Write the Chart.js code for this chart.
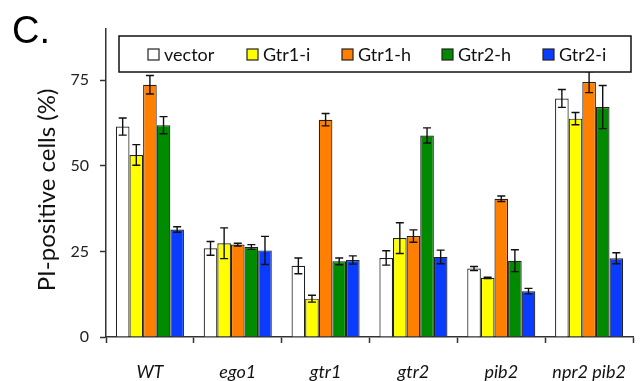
<!DOCTYPE html>
<html>
<head>
<meta charset="utf-8">
<script src="https://cdn.jsdelivr.net/npm/chart.js@4.4.0/dist/chart.umd.min.js"></script>
<style>
  html, body { margin: 0; padding: 0; background: #fff; }
  #wrap { width: 644px; height: 381px; }
</style>
</head>
<body>
<div id="wrap"><canvas id="piChart" width="644" height="381"></canvas></div>
<script>
// categories (strains)
const strains = ['WT', 'ego1', 'gtr1', 'gtr2', 'pib2', 'npr2 pib2'];
const seriesNames = ['vector', 'Gtr1-i', 'Gtr1-h', 'Gtr2-h', 'Gtr2-i'];
const seriesColors = ['#ffffff', '#ffff00', '#ff8000', '#008a00', '#0a3cff'];

// mean % PI-positive cells
const vectorVals = [61.5, 25.9, 20.8, 23.1, 20.0, 69.7];
const gtr1iVals  = [53.2, 27.4, 11.2, 28.9, 17.3, 63.8];
const gtr1hVals  = [73.7, 27.0, 63.5, 29.5, 40.4, 74.5];
const gtr2hVals  = [61.9, 26.3, 22.1, 58.9, 22.3, 67.2];
const gtr2iVals  = [31.4, 25.3, 22.5, 23.4, 13.4, 23.0];

// error bar half-lengths
const vectorErr = [2.5, 2.0, 2.3, 2.1, 0.6, 2.6];
const gtr1iErr  = [3.0, 4.5, 1.0, 4.5, 0.2, 1.8];
const gtr1hErr  = [2.7, 0.4, 1.8, 1.8, 0.8, 3.1];
const gtr2hErr  = [2.5, 0.7, 1.0, 2.2, 3.2, 6.3];
const gtr2iErr  = [0.8, 4.1, 1.2, 2.0, 0.8, 1.6];

const yTicks = [0, 25, 50, 75];

const allVals = [vectorVals, gtr1iVals, gtr1hVals, gtr2hVals, gtr2iVals];
const allErr = [vectorErr, gtr1iErr, gtr1hErr, gtr2hErr, gtr2iErr];

const datasets = seriesNames.map((name, i) => ({
    label: name,
    data: allVals[i],
    errors: allErr[i],
    backgroundColor: seriesColors[i],
    borderColor: '#222',
    borderWidth: 1.2,
    categoryPercentage: 0.775,
    barPercentage: 1.0
}));

// error bars drawn on top of bars, using the y scale
const errorBars = {
    id: 'errorBars',
    afterDatasetsDraw(chart) {
        const ctx = chart.ctx;
        const y = chart.scales.y;
        ctx.save();
        ctx.strokeStyle = '#111';
        ctx.lineWidth = 1.4;
        chart.data.datasets.forEach((ds, di) => {
            const meta = chart.getDatasetMeta(di);
            meta.data.forEach((bar, i) => {
                const v = ds.data[i], e = ds.errors[i];
                const top = y.getPixelForValue(v + e);
                const bot = y.getPixelForValue(v - e);
                const x = bar.x;
                ctx.beginPath();
                ctx.moveTo(x, top); ctx.lineTo(x, bot);
                ctx.moveTo(x - 4, top); ctx.lineTo(x + 4, top);
                ctx.moveTo(x - 4, bot); ctx.lineTo(x + 4, bot);
                ctx.stroke();
            });
        });
        ctx.restore();
    }
};

// boxed legend inside the plot + panel letter + y title
const decorations = {
    id: 'decorations',
    afterDraw(chart) {
        const ctx = chart.ctx;
        ctx.save();

        // panel letter
        ctx.fillStyle = '#000';
        ctx.font = '38px "Liberation Sans", Arial, sans-serif';
        ctx.textBaseline = 'alphabetic';
        ctx.textAlign = 'left';
        ctx.fillText('C.', 12, 43);

        // y axis title
        ctx.save();
        ctx.translate(47, 190);
        ctx.rotate(-Math.PI / 2);
        ctx.textAlign = 'center';
        ctx.textBaseline = 'middle';
        ctx.font = '24px Lato, "Open Sans", sans-serif';
        ctx.fillStyle = '#111';
        ctx.fillText('PI-positive cells (%)', 0, 0);
        ctx.restore();

        // legend box
        ctx.fillStyle = '#fff';
        ctx.fillRect(119, 36, 512, 36);
        ctx.strokeStyle = '#111';
        ctx.lineWidth = 1.5;
        ctx.strokeRect(119, 36, 512, 36);

        const itemX = [148, 247, 342, 442, 543];
        ctx.font = '18px Lato, "Open Sans", sans-serif';
        ctx.textAlign = 'left';
        ctx.textBaseline = 'alphabetic';
        chart.data.datasets.forEach((ds, i) => {
            const x = itemX[i];
            ctx.fillStyle = ds.backgroundColor;
            ctx.fillRect(x, 49, 11, 11);
            ctx.strokeStyle = '#222';
            ctx.lineWidth = 1.2;
            ctx.strokeRect(x, 49, 11, 11);
            ctx.fillStyle = '#111';
            ctx.fillText(ds.label, x + 16, 61);
        });
        ctx.restore();
    }
};

new Chart(document.getElementById('piChart'), {
    type: 'bar',
    data: { labels: strains, datasets: datasets },
    options: {
        responsive: false,
        animation: false,
        layout: { padding: { left: 0, right: 2, top: 29, bottom: 0 } },
        plugins: {
            legend: { display: false },
            tooltip: { enabled: false }
        },
        scales: {
            x: {
                grid: {
                    offset: true,
                    drawOnChartArea: false,
                    drawTicks: true,
                    tickLength: 6,
                    tickWidth: 1.5,
                    tickColor: '#333'
                },
                border: { color: '#333', width: 1.5 },
                ticks: {
                    color: '#111',
                    padding: 18,
                    font: { family: 'Lato', size: 18, style: 'italic' }
                },
                afterFit(scale) { scale.height = 44; }
            },
            y: {
                min: 0,
                max: 90,
                afterBuildTicks(scale) {
                    scale.ticks = yTicks.map(v => ({ value: v }));
                },
                grid: {
                    drawOnChartArea: false,
                    drawTicks: true,
                    tickLength: 6,
                    tickWidth: 1.5,
                    tickColor: '#333'
                },
                border: { color: '#333', width: 1.5 },
                ticks: {
                    color: '#222',
                    padding: 11,
                    font: { family: 'Lato', size: 16 }
                },
                afterFit(scale) { scale.width = 106; }
            }
        }
    },
    plugins: [errorBars, decorations]
});
</script>
</body>
</html>
